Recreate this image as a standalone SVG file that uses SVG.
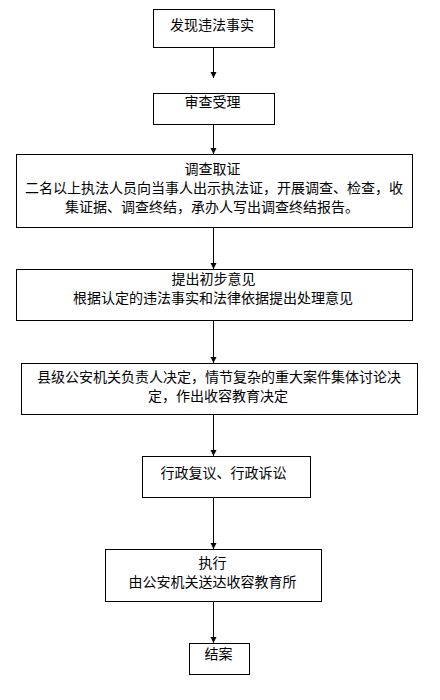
<svg xmlns="http://www.w3.org/2000/svg" width="440" height="700" viewBox="0 0 440 700">
<defs>
<style>
.box{fill:#fff;stroke:#000;stroke-width:1}
.t{font-family:"Noto Sans CJK SC","Noto Sans CJK TC",sans-serif;font-size:14px;fill:#000;text-anchor:middle}
.c{stroke:#000;stroke-width:1;fill:none;marker-end:url(#ah)}
</style>
<marker id="ah" markerWidth="6" markerHeight="7" refX="6" refY="3" orient="auto" markerUnits="userSpaceOnUse" viewBox="0 0 6 6">
<path d="M0,0 L6,3 L0,6 Z" fill="#000"/>
</marker>
</defs>
<rect width="440" height="700" fill="#fff"/>
<g id="connectors">
<line class="c" x1="213.5" y1="47.5" x2="213.5" y2="78"/>
<line class="c" x1="213.5" y1="124.5" x2="213.5" y2="154"/>
<line class="c" x1="213.5" y1="227.5" x2="213.5" y2="269"/>
<line class="c" x1="213.5" y1="320.5" x2="213.5" y2="363"/>
<line class="c" x1="213.5" y1="414.5" x2="213.5" y2="456"/>
<line class="c" x1="213.5" y1="497.5" x2="213.5" y2="549"/>
<line class="c" x1="213.5" y1="601.5" x2="213.5" y2="643"/>
</g>
<g id="n1"><rect class="box" x="153.5" y="9.5" width="121" height="38"/><text class="t" x="212" y="30">发现违法事实</text></g>
<g id="n2"><rect class="box" x="153.5" y="93.5" width="121" height="31"/><text class="t" x="212.5" y="107">审查受理</text></g>
<g id="n3"><rect class="box" x="16.5" y="154.5" width="396" height="73"/>
<text class="t" x="212.5" y="174">调查取证</text>
<text class="t" x="214" y="193">二名以上执法人员向当事人出示执法证，开展调查、检查，收</text>
<text class="t" x="212" y="212">集证据、调查终结，承办人写出调查终结报告。</text></g>
<g id="n4"><rect class="box" x="16.5" y="269.5" width="396" height="51"/>
<text class="t" x="213.5" y="284">提出初步意见</text>
<text class="t" x="213" y="303">根据认定的违法事实和法律依据提出处理意见</text></g>
<g id="n5"><rect class="box" x="21.5" y="363.5" width="396" height="51"/>
<text class="t" x="219" y="382">县级公安机关负责人决定，情节复杂的重大案件集体讨论决</text>
<text class="t" x="218" y="401">定，作出收容教育决定</text></g>
<g id="n6"><rect class="box" x="142.5" y="456.5" width="168" height="41"/><text class="t" x="223.5" y="478">行政复议、行政诉讼</text></g>
<g id="n7"><rect class="box" x="105.5" y="549.5" width="216" height="52"/>
<text class="t" x="212.5" y="568">执行</text>
<text class="t" x="212.5" y="587">由公安机关送达收容教育所</text></g>
<g id="n8"><rect class="box" x="189.5" y="643.5" width="60" height="31"/><text class="t" x="218.5" y="659">结案</text></g>
</svg>
